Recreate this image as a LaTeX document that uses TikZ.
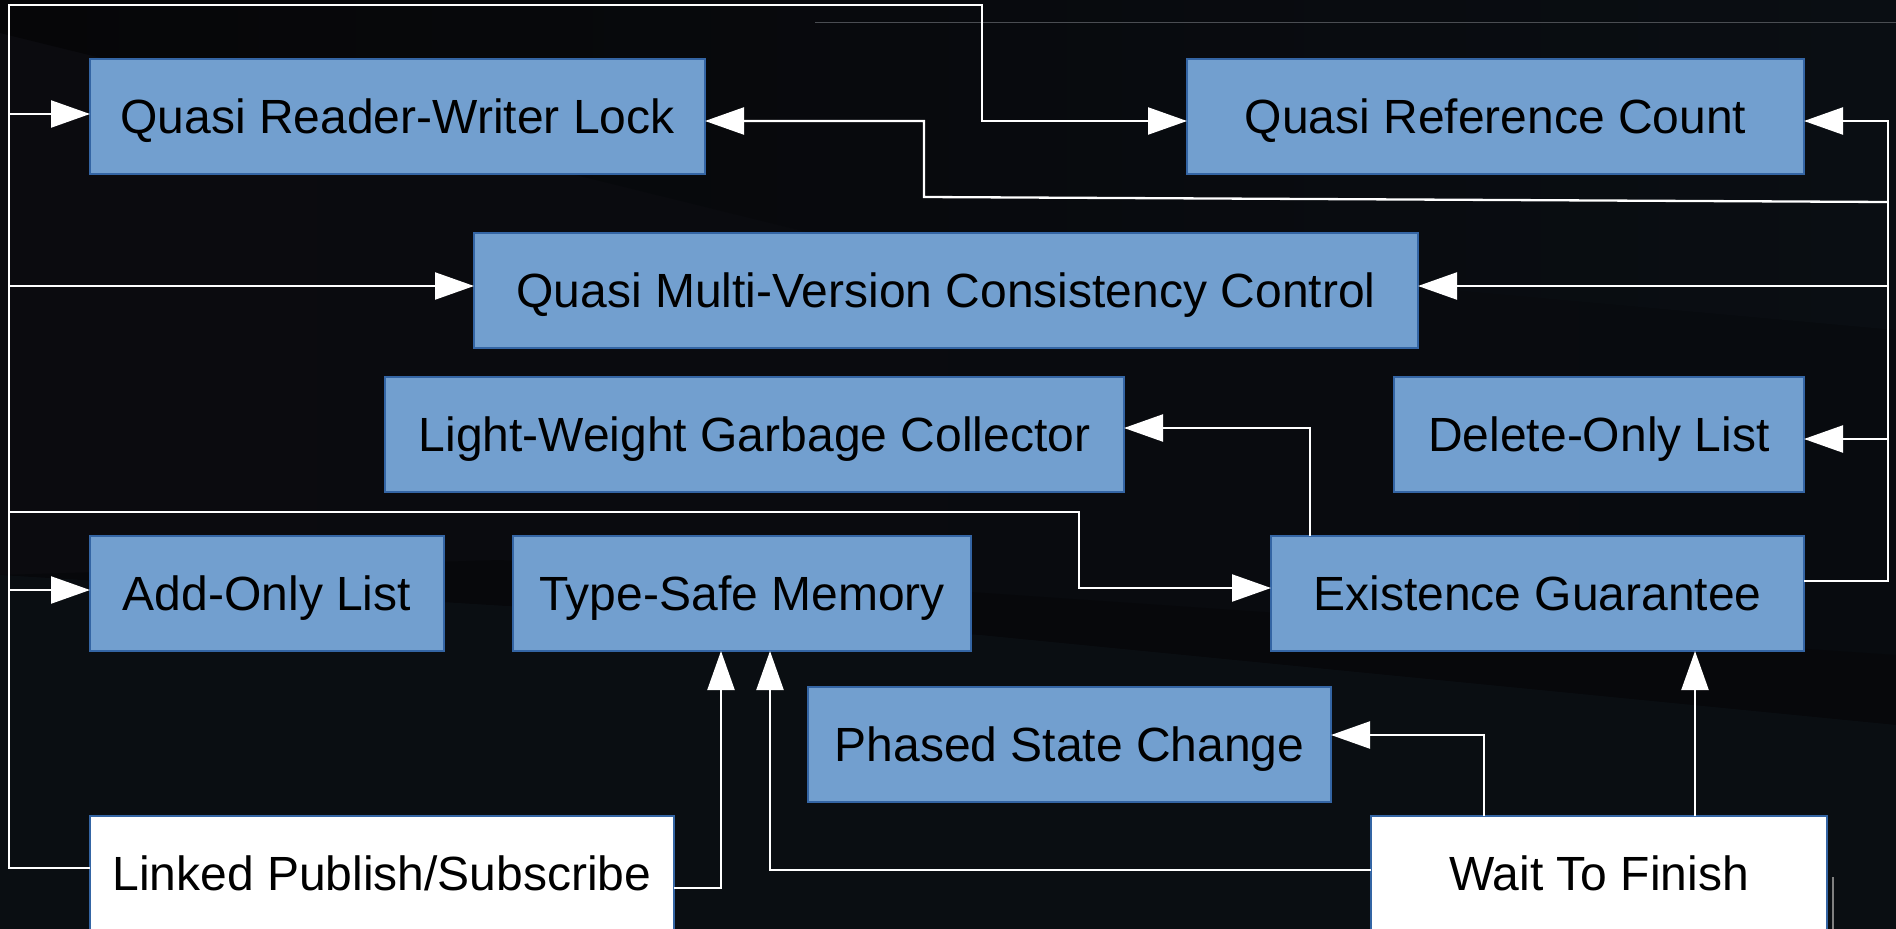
\documentclass[tikz,border=0pt]{standalone}
\usepackage{fontspec}
\setmainfont{Liberation Sans}
\usetikzlibrary{arrows.meta}

\definecolor{bgL}{HTML}{0B0B0F}
\definecolor{bgR}{HTML}{080B0F}
\definecolor{bgtopL}{HTML}{060608}
\definecolor{bgtopR}{HTML}{0A0E13}
\definecolor{bgwedge}{HTML}{07080B}
\definecolor{bglow}{HTML}{0A0E12}
\definecolor{boxfill}{HTML}{729FCF}
\definecolor{boxline}{HTML}{3465A4}
\definecolor{faint}{HTML}{4A4D52}

\tikzset{
  block/.style={draw=boxline, fill=boxfill, line width=1.5pt, anchor=north west,
    inner sep=0pt, outer sep=0pt, text=black,
    text height=40pt, text depth=5.5pt,
    font=\fontsize{48}{57}\selectfont},
  whiteblock/.style={block, fill=white},
  wire/.style={draw=white, line width=2.3pt},
  arr/.style={wire, -{Triangle[length=39pt,width=27pt]}, white},
}

\begin{document}
\begin{tikzpicture}[x=1pt,y=-1pt]
\useasboundingbox (0,0) rectangle (1896,929);

% backdrop
\shade[left color=bgL, right color=bgR] (0,0) rectangle (1896,929);
\shade[left color=bgtopL, right color=bgtopR]
  (0,0) -- (1896,0) -- (1896,330) -- (807,232) -- (0,33) -- cycle;
\fill[bgwedge] (500,560) -- (1896,655) -- (1896,725) -- (980,635) -- (0,575) -- cycle;
\fill[bglow] (0,575) -- (980,635) -- (1896,725) -- (1896,929) -- (0,929) -- cycle;
\draw[faint, line width=1pt] (815,22) -- (1896,22);
\draw[gray, line width=1.5pt] (1833,877) -- (1833,929);

% blocks
\node[block, minimum width=615pt, minimum height=115pt] (qrwl) at (90,59) {Quasi Reader-Writer Lock};
\node[block, minimum width=617pt, minimum height=115pt] (qrc) at (1187,59) {Quasi Reference Count};
\node[block, minimum width=944pt, minimum height=115pt] (qmvcc) at (474,233) {Quasi Multi-Version Consistency Control};
\node[block, minimum width=739pt, minimum height=115pt] (lwgc) at (385,377) {Light-Weight Garbage Collector};
\node[block, minimum width=410pt, minimum height=115pt] (dol) at (1394,377) {Delete-Only List};
\node[block, minimum width=354pt, minimum height=115pt] (aol) at (90,536) {Add-Only List};
\node[block, minimum width=458pt, minimum height=115pt] (tsm) at (513,536) {Type-Safe Memory};
\node[block, minimum width=533pt, minimum height=115pt] (eg) at (1271,536) {Existence Guarantee};
\node[block, minimum width=523pt, minimum height=115pt] (psc) at (808,687) {Phased State Change};
\node[whiteblock, minimum width=584pt, minimum height=115pt] (lps) at (90,816) {Linked Publish/Subscribe};
\node[whiteblock, minimum width=456pt, minimum height=115pt] (wtf) at (1371,816) {Wait To Finish};

% attachment points
\coordinate (qrwlL) at ([yshift=2.5pt]qrwl.west);
\coordinate (qrwlR) at ([yshift=-4.5pt]qrwl.east);
\coordinate (qrcL) at ([yshift=-4.5pt]qrc.west);
\coordinate (qrcR) at ([yshift=-4.5pt]qrc.east);
\coordinate (qmvccL) at ([yshift=4.5pt]qmvcc.west);
\coordinate (qmvccR) at ([yshift=4.5pt]qmvcc.east);
\coordinate (lwgcR) at ([yshift=6.5pt]lwgc.east);
\coordinate (dolR) at ([yshift=-4.5pt]dol.east);
\coordinate (aolL) at ([yshift=3.5pt]aol.west);
\coordinate (egL) at ([yshift=5.5pt]eg.west);
\coordinate (egR) at ([yshift=12.5pt]eg.east);
\coordinate (egN) at ([xshift=-227.5pt]eg.north);
\coordinate (egS) at ([xshift=157.5pt]eg.south);
\coordinate (tsmS1) at ([xshift=-21pt]tsm.south);
\coordinate (tsmS2) at ([xshift=28pt]tsm.south);
\coordinate (pscR) at ([yshift=9.5pt]psc.east);
\coordinate (lpsL) at ([yshift=5.5pt]lps.west);
\coordinate (lpsR) at ([yshift=-14.5pt]lps.east);
\coordinate (wtfL) at ([yshift=3.5pt]wtf.west);
\coordinate (wtfN1) at ([xshift=-115pt]wtf.north);
\coordinate (wtfN2) at ([xshift=96pt]wtf.north);

% bends of the routed wires
\coordinate (tl) at (9,5);
\coordinate (tr) at (982,5);
\coordinate (rt) at (1888,121);
\coordinate (loopR) at (1888,202);
\coordinate (loopL) at (924,197);
\coordinate (egbend) at (1079,512);

% Linked Publish/Subscribe fans out along the left trunk
\draw[arr] (lpsL) -| (tl) -- (tr) |- (qrcL);
\draw[arr] (tl |- qrwlL) -- (qrwlL);
\draw[arr] (tl |- qmvccL) -- (qmvccL);
\draw[arr] (tl |- aolL) -- (aolL);
\draw[arr] (tl |- egbend) -- (egbend) |- (egL);
\draw[arr] (lpsR) -| (tsmS1);

% Existence Guarantee fans out along the right trunk
\draw[arr] (egR) -| (rt) -- (qrcR);
\draw[arr] (rt |- qmvccR) -- (qmvccR);
\draw[arr] (rt |- dolR) -- (dolR);
\draw[arr] (loopR) -- (loopL) |- (qrwlR);
\draw[arr] (egN) |- (lwgcR);

% Wait To Finish
\draw[arr] (wtfL) -| (tsmS2);
\draw[arr] (wtfN1) |- (pscR);
\draw[arr] (wtfN2) -- (egS);
\end{tikzpicture}
\end{document}
